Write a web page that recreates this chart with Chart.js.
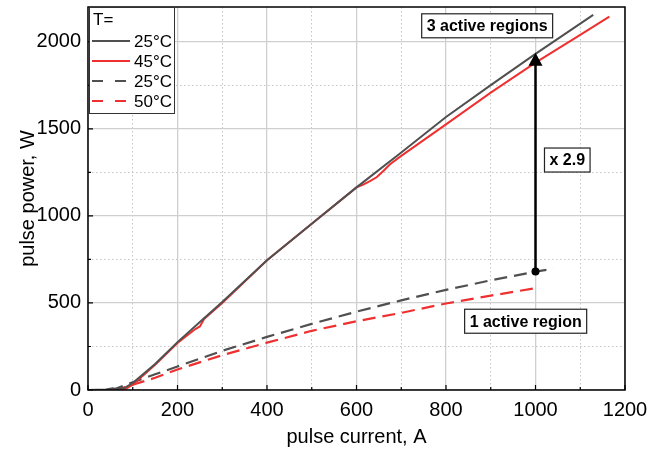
<!DOCTYPE html>
<html>
<head>
<meta charset="utf-8">
<script src="https://cdn.jsdelivr.net/npm/chart.js@4.4.1/dist/chart.umd.min.js"></script>
<style>
  html, body { margin: 0; padding: 0; background: #fff; }
  #wrap { width: 649px; height: 455px; position: relative; }
</style>
</head>
<body>
<div id="wrap"><canvas id="chart"></canvas></div>
<script>
// --- DATA ---
const current25 = [0, 40, 55, 65, 80, 100, 150, 200, 250, 300, 400, 500, 600, 700, 800, 900, 1000, 1129];
const power25   = [0, 3, 10, 5, 10, 40, 150, 275, 390, 505, 745, 955, 1164, 1364, 1568, 1751, 1931, 2155];

const current45 = [0, 80, 100, 150, 200, 240, 250, 260, 300, 400, 500, 600, 615, 630, 645, 660, 675, 700, 800, 900, 1000, 1100, 1165];
const power45   = [0, 0, 30, 145, 270, 350, 365, 410, 500, 745, 955, 1164, 1180, 1200, 1222, 1258, 1297, 1345, 1526, 1708, 1880, 2040, 2145];

const current25b = [50, 60, 100, 150, 200, 300, 400, 500, 600, 700, 800, 900, 1000, 1040];
const power25b   = [0, 5, 45, 90, 135, 225, 305, 380, 450, 515, 575, 630, 680, 697];

const current50 = [55, 65, 100, 150, 200, 300, 400, 500, 600, 700, 800, 900, 1000];
const power50   = [0, 3, 30, 70, 118, 200, 272, 340, 395, 443, 497, 542, 585];

const seriesLabels = ['25°C', '45°C', '25°C', '50°C'];
const legendTitle = 'T=';

const xTicks = [0, 100, 200, 300, 400, 500, 600, 700, 800, 900, 1000, 1100, 1200];
const yTicks = [0, 250, 500, 750, 1000, 1250, 1500, 1750, 2000];

// annotations: [text, x, y] in data units (box centre)
const notes = [
    ['3 active regions', 892, 2092],
    ['x 2.9', 1071, 1321],
    ['1 active region', 978, 395]
];
const arrowFrom = [1000, 680];
const arrowTo = [1000, 1937];

// --- STYLE ---
const DARK = '#505050';
const RED = '#ee3030';
const FONT = "'Liberation Sans', Arial, sans-serif";

function pts(xs, ys) {
    return xs.map((x, i) => ({ x: x, y: ys[i] }));
}

const datasets = [
    { label: seriesLabels[0], data: pts(current25, power25), borderColor: DARK, borderWidth: 2, borderDash: [] },
    { label: seriesLabels[1], data: pts(current45, power45), borderColor: RED, borderWidth: 2, borderDash: [] },
    { label: seriesLabels[2], data: pts(current25b, power25b), borderColor: DARK, borderWidth: 2.2, borderDash: [13, 7] },
    { label: seriesLabels[3], data: pts(current50, power50), borderColor: RED, borderWidth: 2.2, borderDash: [13, 7] }
].map(d => Object.assign(d, { showLine: true, pointRadius: 0, fill: false, tension: 0 }));

// frame, inward ticks, legend box and annotations
const decorPlugin = {
    id: 'decor',
    afterDatasetsDraw(chart) {
        const ctx = chart.ctx;
        const a = chart.chartArea;
        const xs = chart.scales.x, ys = chart.scales.y;
        ctx.save();

        // frame
        ctx.strokeStyle = '#000';
        ctx.lineWidth = 1.5;
        ctx.strokeRect(a.left, a.top, a.right - a.left, a.bottom - a.top);

        // inward ticks
        ctx.lineWidth = 1.2;
        ctx.beginPath();
        xTicks.forEach(v => {
            const px = xs.getPixelForValue(v);
            const len = v % 200 === 0 ? 5 : 3;
            ctx.moveTo(px, a.bottom);
            ctx.lineTo(px, a.bottom - len);
        });
        yTicks.forEach(v => {
            const py = ys.getPixelForValue(v);
            const len = v % 500 === 0 ? 5 : 3;
            ctx.moveTo(a.left, py);
            ctx.lineTo(a.left + len, py);
        });
        ctx.stroke();

        // arrow x 2.9
        const ax = xs.getPixelForValue(arrowFrom[0]);
        const ay0 = ys.getPixelForValue(arrowFrom[1]);
        const ay1 = ys.getPixelForValue(arrowTo[1]);
        ctx.strokeStyle = '#000';
        ctx.fillStyle = '#000';
        ctx.lineWidth = 2.5;
        ctx.beginPath();
        ctx.moveTo(ax, ay0);
        ctx.lineTo(ax, ay1 + 10);
        ctx.stroke();
        ctx.beginPath();
        ctx.moveTo(ax, ay1);
        ctx.lineTo(ax - 7, ay1 + 13);
        ctx.lineTo(ax + 7, ay1 + 13);
        ctx.closePath();
        ctx.fill();
        ctx.beginPath();
        ctx.arc(ax, ay0, 4, 0, Math.PI * 2);
        ctx.fill();

        // text boxes
        ctx.font = 'bold 16px ' + FONT;
        ctx.textAlign = 'center';
        ctx.textBaseline = 'middle';
        notes.forEach(n => {
            const cx = xs.getPixelForValue(n[1]);
            const cy = ys.getPixelForValue(n[2]);
            const w = ctx.measureText(n[0]).width + 10;
            const h = 24;
            ctx.fillStyle = '#fff';
            ctx.fillRect(cx - w / 2, cy - h / 2, w, h);
            ctx.strokeStyle = '#222';
            ctx.lineWidth = 1.2;
            ctx.strokeRect(cx - w / 2, cy - h / 2, w, h);
            ctx.fillStyle = '#000';
            ctx.fillText(n[0], cx, cy + 1);
        });

        // legend
        const lx = a.left + 1, ly = a.top, lw = 85, lh = 106;
        ctx.fillStyle = '#fff';
        ctx.fillRect(lx, ly, lw, lh);
        ctx.strokeStyle = '#333';
        ctx.lineWidth = 1;
        ctx.strokeRect(lx + 0.5, ly + 0.5, lw, lh);
        ctx.font = '17px ' + FONT;
        ctx.textAlign = 'left';
        ctx.fillStyle = '#000';
        ctx.fillText(legendTitle, lx + 4, ly + 13);
        chart.data.datasets.forEach((d, i) => {
            const y = ly + 34 + i * 20;
            ctx.strokeStyle = d.borderColor;
            ctx.lineWidth = 2.2;
            ctx.setLineDash(d.borderDash.length ? [11, 12] : []);
            ctx.beginPath();
            ctx.moveTo(lx + 3, y);
            ctx.lineTo(lx + 41, y);
            ctx.stroke();
            ctx.setLineDash([]);
            ctx.fillStyle = '#000';
            ctx.fillText(d.label, lx + 45, y + 1);
        });

        ctx.restore();
    }
};

new Chart(document.getElementById('chart'), {
    type: 'scatter',
    data: { datasets: datasets },
    options: {
        responsive: true,
        maintainAspectRatio: false,
        animation: false,
        events: [],
        layout: { padding: { top: 7, right: 24, left: 0, bottom: 0 } },
        plugins: { legend: { display: false }, tooltip: { enabled: false } },
        scales: {
            x: {
                type: 'linear',
                min: 0,
                max: 1200,
                afterBuildTicks: s => { s.ticks = xTicks.map(v => ({ value: v })); },
                afterFit: s => { s.height = 65; s.paddingLeft = 0; s.paddingRight = 0; },
                ticks: {
                    autoSkip: false,
                    maxRotation: 0,
                    padding: 8,
                    color: '#000',
                    font: { family: FONT, size: 20 },
                    callback: v => (v % 200 === 0 ? String(v) : '')
                },
                grid: {
                    drawTicks: false,
                    color: c => (c.tick && c.tick.value % 200 === 0 ? '#cfcfcf' : '#c4c4c4'),
                    lineWidth: c => (c.tick && c.tick.value % 200 === 0 ? 1.3 : 1)
                },
                border: {
                    display: false,
                    dash: c => (c.tick && c.tick.value % 200 === 0 ? [] : [1.5, 2.5])
                },
                title: {
                    display: true,
                    text: 'pulse current, A',
                    color: '#000',
                    font: { family: FONT, size: 20 },
                    padding: { top: 0, bottom: 6 }
                }
            },
            y: {
                type: 'linear',
                min: 0,
                max: 2200,
                afterBuildTicks: s => { s.ticks = yTicks.map(v => ({ value: v })); },
                afterFit: s => { s.width = 88; s.paddingTop = 0; s.paddingBottom = 0; },
                ticks: {
                    autoSkip: false,
                    padding: 7,
                    color: '#000',
                    font: { family: FONT, size: 20 },
                    callback: v => (v % 500 === 0 ? String(v) : '')
                },
                grid: {
                    drawTicks: false,
                    color: c => (c.tick && c.tick.value % 500 === 0 ? '#cfcfcf' : '#c4c4c4'),
                    lineWidth: c => (c.tick && c.tick.value % 500 === 0 ? 1.3 : 1)
                },
                border: {
                    display: false,
                    dash: c => (c.tick && c.tick.value % 500 === 0 ? [] : [1.5, 2.5])
                },
                title: {
                    display: true,
                    text: 'pulse power, W',
                    color: '#000',
                    font: { family: FONT, size: 20 },
                    padding: { top: 16, bottom: 0 }
                }
            }
        }
    },
    plugins: [decorPlugin]
});
</script>
</body>
</html>
